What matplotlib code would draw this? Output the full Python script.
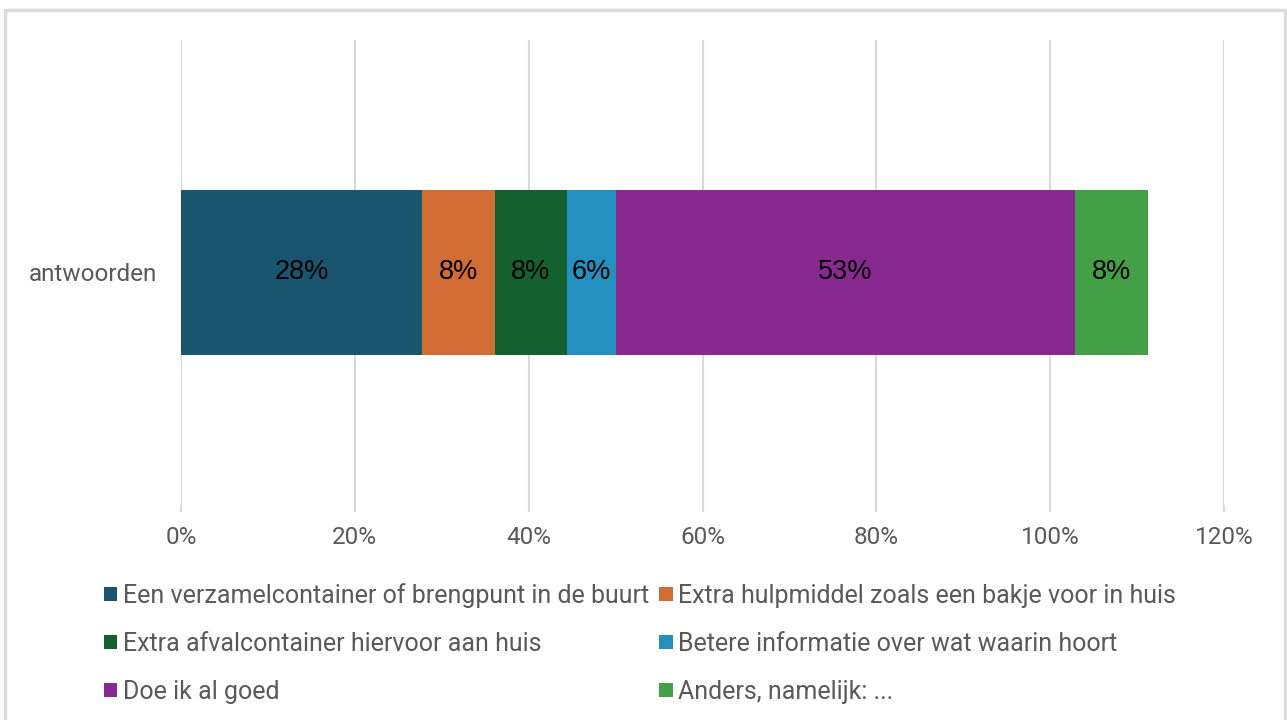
import matplotlib.pyplot as plt
from matplotlib.patches import Rectangle
from matplotlib.ticker import FuncFormatter

category = "antwoorden"
answers = [
    "Een verzamelcontainer of brengpunt in de buurt",
    "Extra hulpmiddel zoals een bakje voor in huis",
    "Extra afvalcontainer hiervoor aan huis",
    "Betere informatie over wat waarin hoort",
    "Doe ik al goed",
    "Anders, namelijk: ...",
]
shares = [27.7, 8.4, 8.3, 5.6, 52.9, 8.4]
colors = ["#1A5570", "#D16C34", "#14602F", "#2490C0", "#88298F", "#44A047"]

plt.rcParams["font.family"] = ["Roboto", "DejaVu Sans"]

fig = plt.figure(figsize=(12.87, 7.2), dpi=100)
ax = fig.add_axes([181 / 1287, 1 - 505 / 720, (1224 - 181) / 1287, 465 / 720])

left = 0
bars = []
for name, val, col in zip(answers, shares, colors):
    b = ax.barh([0], [val], left=left, height=0.353, color=col, label=name, zorder=3)
    bars.append(b)
    ax.text(left + val / 2, 0, f"{val:.0f}%", ha="center", va="center",
            fontsize=19.5, color="black", family="Liberation Sans", zorder=4)
    left += val

ax.set_xlim(0, 120)
ax.set_ylim(-0.5, 0.5)
ax.set_xticks(range(0, 121, 20))
ax.xaxis.set_major_formatter(FuncFormatter(lambda v, p: f"{v:.0f}%"))
ax.set_yticks([0])
ax.set_yticklabels([category])
ax.grid(axis="x", color="#D9D9D9", linewidth=1.5, zorder=0)
for s in ax.spines.values():
    s.set_visible(False)
ax.tick_params(axis="x", length=5, color="#D9D9D9", width=1.5, pad=10,
               labelsize=17.5, labelcolor="#595959")
ax.tick_params(axis="y", length=0, pad=17, labelsize=17.5, labelcolor="#595959")

# legend filled row by row: reorder for matplotlib's column-major layout
order = [0, 2, 4, 1, 3, 5]
fig.legend([bars[i] for i in order], [answers[i] for i in order],
           loc="upper left", bbox_to_anchor=(94 / 1287, 1 - 573 / 720), ncol=2,
           frameon=False, fontsize=18, labelcolor="#595959",
           handlelength=0.53, handleheight=0.53, handletextpad=0.22,
           columnspacing=0.42, labelspacing=0.96, borderaxespad=0)

# outer chart frame
fig.patches.append(Rectangle((5 / 1287, -0.1), 1280 / 1287, 1.1 - 10 / 720,
                             transform=fig.transFigure, fill=False,
                             edgecolor="#DCDCDC", linewidth=2.5))

fig.savefig("out.png", dpi=100)
